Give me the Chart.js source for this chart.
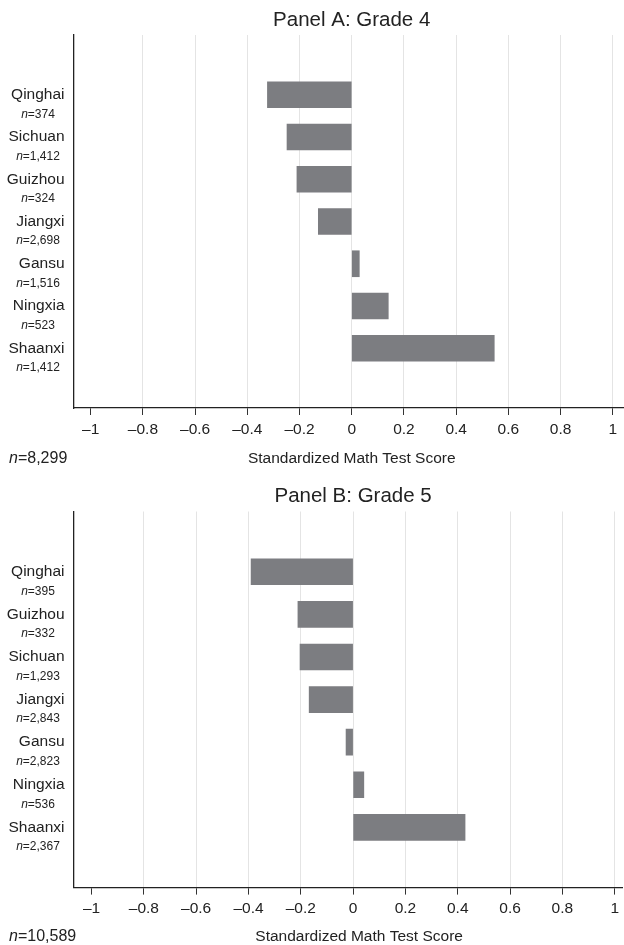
<!DOCTYPE html>
<html>
<head>
<meta charset="utf-8">
<title>Standardized Math Test Score by province</title>
<script src="https://cdn.jsdelivr.net/npm/chart.js@4"></script>
<style>
  html, body { margin: 0; padding: 0; background: #fff; }
  #wrap { position: relative; width: 624px; height: 945px; overflow: hidden; }
  canvas { position: absolute; left: 0; }
  #panelA { top: 0; }
  #panelB { top: 470px; }
</style>
</head>
<body>
<div id="wrap">
  <canvas id="panelA" width="624" height="470"></canvas>
  <canvas id="panelB" width="624" height="475"></canvas>
</div>
<script>
// -------- data -------- //

// Panel A: Grade 4
const gradeFourProvinces = ['Qinghai', 'Sichuan', 'Guizhou', 'Jiangxi', 'Gansu', 'Ningxia', 'Shaanxi'];
const gradeFourScores = [-0.323, -0.248, -0.21, -0.128, 0.029, 0.14, 0.546];
const gradeFourCounts = ['374', '1,412', '324', '2,698', '1,516', '523', '1,412'];
const gradeFourTotal = '8,299';

// Panel B: Grade 5
const gradeFiveProvinces = ['Qinghai', 'Guizhou', 'Sichuan', 'Jiangxi', 'Gansu', 'Ningxia', 'Shaanxi'];
const gradeFiveScores = [-0.39, -0.211, -0.203, -0.168, -0.027, 0.041, 0.428];
const gradeFiveCounts = ['395', '332', '1,293', '2,843', '2,823', '536', '2,367'];
const gradeFiveTotal = '10,589';

// x axis ticks (same for both panels)
const scoreTicks = [-1, -0.8, -0.6, -0.4, -0.2, 0, 0.2, 0.4, 0.6, 0.8, 1];

const axisTitle = 'Standardized Math Test Score';

// -------- ---- -------- //

const FONT = '"Liberation Sans", Arial, Helvetica, sans-serif';
const TEXT = '#222';
const BAR = '#7c7d81';

function fmtTick(v) {
    if (v === 0) return '0';
    return v < 0 ? '\u2013' + Math.abs(v) : String(v);
}

// draws an "n=..." string with an italic n, centred or left aligned
function drawCount(ctx, count, x, y, size, align) {
    const italic = 'italic ' + size + 'px ' + FONT;
    const upright = size + 'px ' + FONT;
    const rest = '=' + count;
    ctx.font = italic;
    const w1 = ctx.measureText('n').width;
    ctx.font = upright;
    const w2 = ctx.measureText(rest).width;
    let left = align === 'center' ? x - (w1 + w2) / 2 : x;
    ctx.textAlign = 'left';
    ctx.textBaseline = 'middle';
    ctx.font = italic;
    ctx.fillText('n', left, y);
    ctx.font = upright;
    ctx.fillText(rest, left + w1, y);
}

// panel texts: title, province names with counts, bottom line
const panelText = {
    id: 'panelText',
    afterDraw(chart, args, opts) {
        const ctx = chart.ctx;
        const xs = chart.scales.x;
        const ys = chart.scales.y;
        const area = chart.chartArea;
        const mid = xs.getPixelForValue(0);
        ctx.save();
        ctx.fillStyle = TEXT;

        // title
        ctx.font = '20.5px ' + FONT;
        ctx.textAlign = 'center';
        ctx.textBaseline = 'middle';
        ctx.fillText(opts.title, mid, opts.titleY);

        // province labels
        opts.labels.forEach(function (name, i) {
            const y = ys.getPixelForValue(i);
            ctx.font = '15.5px ' + FONT;
            ctx.textAlign = 'right';
            ctx.textBaseline = 'middle';
            ctx.fillText(name, area.left - 9.5, y);
            drawCount(ctx, opts.counts[i], 38, y + 19.5, 12, 'center');
        });

        // bottom line: total n and axis title
        drawCount(ctx, opts.total, 9, opts.bottomY, 16, 'left');
        ctx.font = '15.5px ' + FONT;
        ctx.textAlign = 'center';
        ctx.textBaseline = 'middle';
        ctx.fillText(axisTitle, mid + opts.axisTitleShift, opts.bottomY);
        ctx.restore();
    }
};

function makePanel(canvasId, cfg) {
    return new Chart(document.getElementById(canvasId), {
        type: 'bar',
        data: {
            datasets: [{
                data: cfg.scores.map((v, i) => ({ x: v, y: i })),
                backgroundColor: BAR,
                borderWidth: 0,
                barThickness: 26
            }]
        },
        plugins: [panelText],
        options: {
            indexAxis: 'y',
            responsive: false,
            animation: false,
            devicePixelRatio: 1,
            layout: { padding: { left: 74, right: 0, top: cfg.top, bottom: cfg.bottom } },
            scales: {
                x: {
                    type: 'linear',
                    min: cfg.xMin,
                    max: cfg.xMax,
                    afterBuildTicks: scale => { scale.ticks = scoreTicks.map(value => ({ value })); },
                    grid: {
                        color: ctx => (ctx.tick && ctx.tick.value === -1) ? 'rgba(0,0,0,0)' : '#e4e4e4',
                        lineWidth: 1,
                        tickColor: '#333',
                        tickLength: 7,
                        tickWidth: 1
                    },
                    border: { display: true, color: '#222', width: 1.3 },
                    ticks: {
                        padding: 5,
                        color: TEXT,
                        font: { family: FONT, size: 15.5 },
                        maxRotation: 0,
                        autoSkip: false,
                        callback: v => fmtTick(v)
                    }
                },
                y: {
                    type: 'linear',
                    reverse: true,
                    offset: false,
                    min: -1.415,
                    max: cfg.scores.length - 1 + 1.415,
                    grid: { display: false, drawTicks: false },
                    border: { display: true, color: '#222', width: 1.3 },
                    ticks: { display: false }
                }
            },
            plugins: {
                legend: { display: false },
                tooltip: { enabled: false },
                panelText: {
                    title: cfg.title,
                    titleY: cfg.titleY,
                    labels: cfg.labels,
                    counts: cfg.counts,
                    total: cfg.total,
                    bottomY: cfg.bottomY,
                    axisTitleShift: cfg.axisTitleShift
                }
            }
        }
    });
}

makePanel('panelA', {
    title: 'Panel A: Grade 4',
    labels: gradeFourProvinces,
    scores: gradeFourScores,
    counts: gradeFourCounts,
    total: gradeFourTotal,
    xMin: -1.064, xMax: 1.043,
    top: 35, bottom: 26.4,
    titleY: 20, bottomY: 459,
    axisTitleShift: 0
});

makePanel('panelB', {
    title: 'Panel B: Grade 5',
    labels: gradeFiveProvinces,
    scores: gradeFiveScores,
    counts: gradeFiveCounts,
    total: gradeFiveTotal,
    xMin: -1.067, xMax: 1.029,
    top: 41.5, bottom: 21.8,
    titleY: 26.7, bottomY: 466.7,
    axisTitleShift: 6
});
</script>
</body>
</html>
